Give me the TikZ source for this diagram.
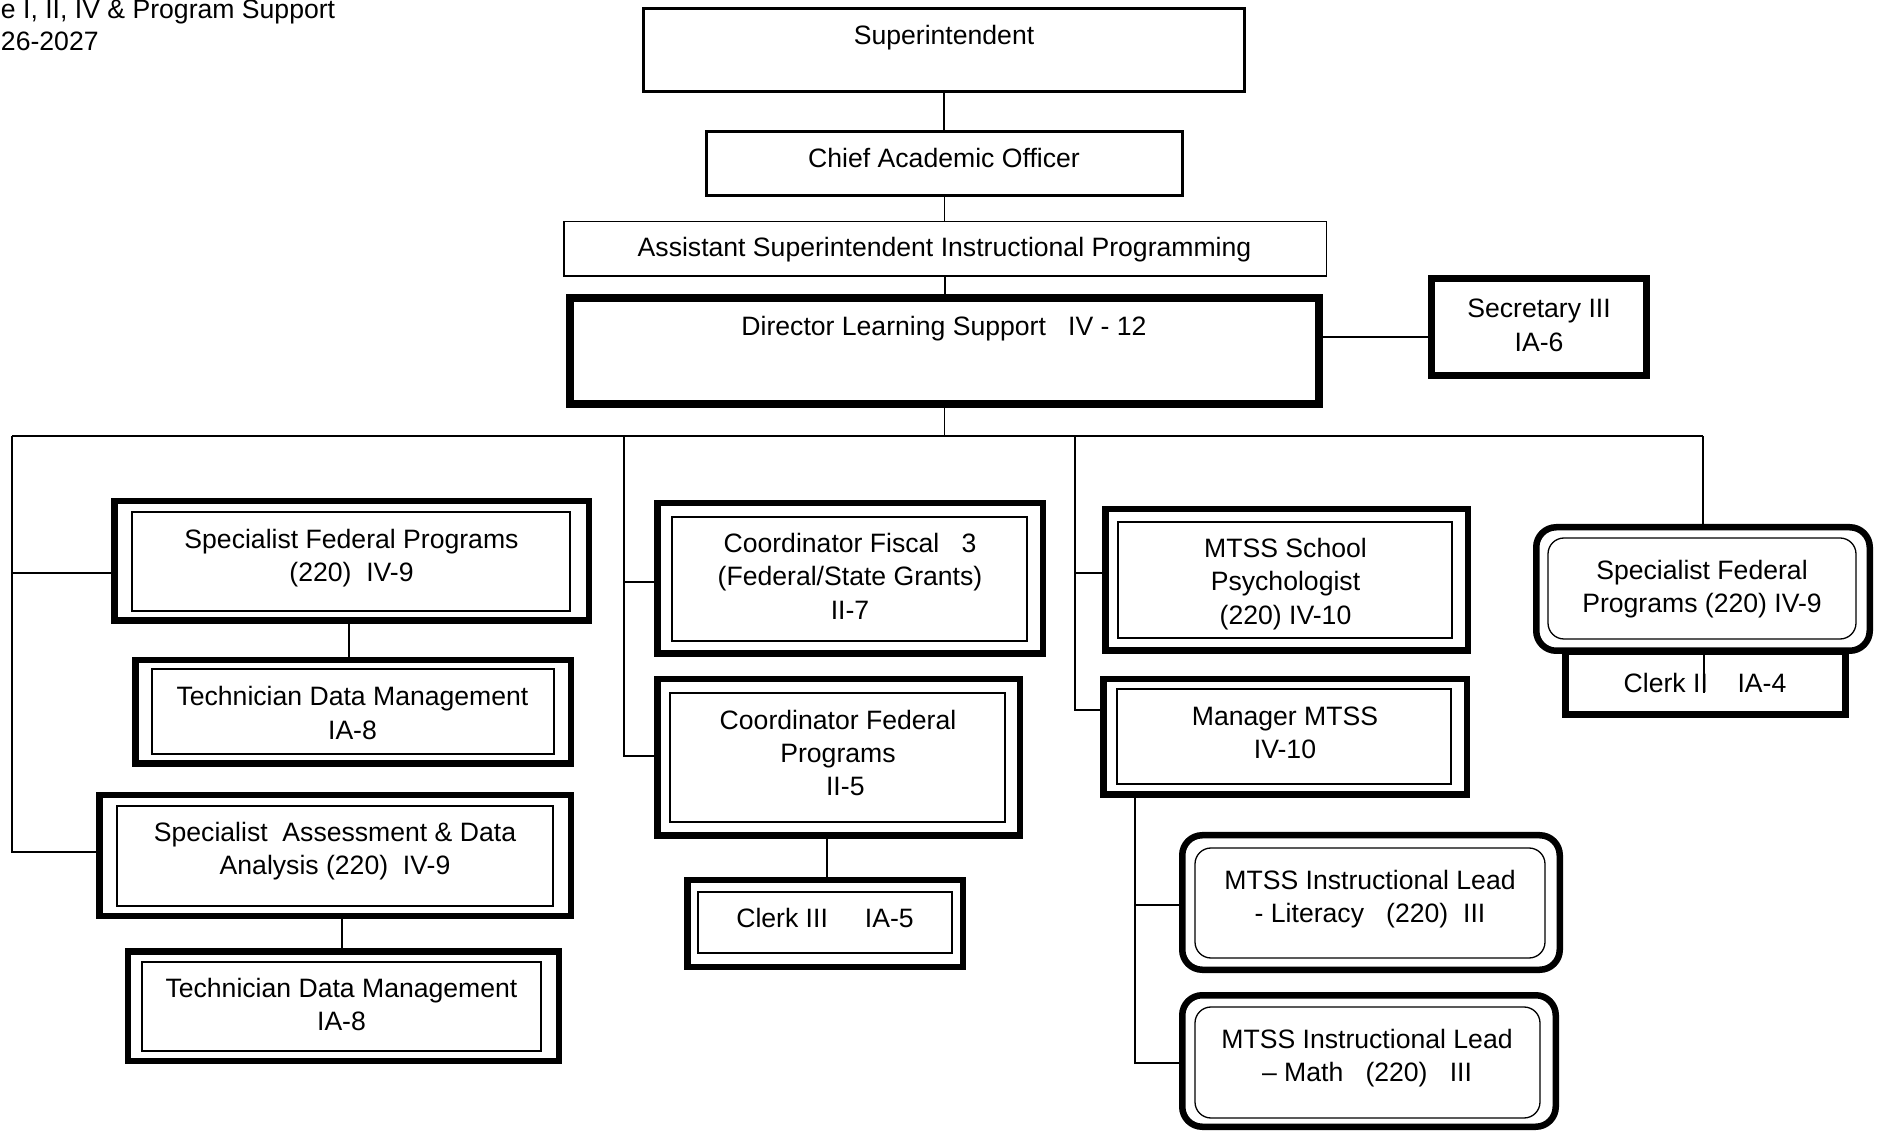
\documentclass[tikz,border=0pt]{standalone}
\usepackage{fontspec}
\setmainfont{Liberation Sans}
\usetikzlibrary{fit,calc}
\begin{document}
\begin{tikzpicture}[x=0.5pt,y=-0.5pt,
  every node/.style={inner sep=0pt, outer sep=0pt},
  lbl/.style={font=\fontsize{13.3}{16.65}\selectfont, align=center, anchor=base},
  conn/.style={line width=0.6pt},
  dbl/.style={draw, line width=3.25pt},
  rdbl/.style={draw, line width=3.25pt, rounded corners=10pt, fill=white},
  inl/.style={line width=0.65pt},
  rinl/.style={line width=0.65pt, rounded corners=8pt},
]
\useasboundingbox (0,0) rectangle (1881,1133);

% title (at the left edge)
\node[lbl, anchor=base west] (title1) at (1,19) {e I, II, IV \& Program Support};
\node[lbl, anchor=base west] (title2) at (1,51) {26-2027};

% top chain
\node[draw, line width=1.7pt, fit={(643.7,8.7) (1244.3,91.3)}] (sup) {};
\node[lbl] (sup-t) at (944,45) {Superintendent};
\node[draw, line width=1.35pt, fit={(706.35,131.35) (1182.65,195.65)}] (cao) {};
\node[lbl] (cao-t) at (944,168) {Chief Academic Officer};
\node[draw, line width=0.75pt, fit={(563.75,221.75) (1326.25,276.25)}] (asip) {};
\node[lbl] (asip-t) at (944.5,257) {Assistant Superintendent Instructional Programming};
\node[draw, line width=3.85pt, fit={(569.85,297.85) (1319.15,404.15)}] (dls) {};
\node[lbl] (dls-t) at (944,336) {Director Learning Support\ \ \ IV - 12};
\node[draw, line width=3.5pt, fit={(1431.5,278.5) (1646.5,375.5)}] (sec) {};
\node[lbl] (sec-t) at (1539,351.3) {Secretary III\\IA-6};

% column 1
\node[dbl, fit={(114.25,501.25) (588.75,620.75)}] (sfpl) {};
\draw[inl] (132,512) rectangle (570,611);
\node[lbl] (sfpl-t) at (351.5,581.8) {Specialist Federal Programs\\(220)\ \ IV-9};
\node[dbl, fit={(135.25,660.25) (570.75,763.75)}] (tdm1) {};
\draw[inl] (152,669) rectangle (554,754);
\node[lbl] (tdm1-t) at (352.5,739.3) {Technician Data Management\\IA-8};
\node[dbl, fit={(99.25,795.25) (570.75,915.75)}] (sada) {};
\draw[inl] (117,806) rectangle (553,906);
\node[lbl] (sada-t) at (335,874.8) {Specialist\ \ Assessment \& Data\\Analysis (220)\ \ IV-9};
\node[dbl, fit={(127.75,951.25) (558.75,1060.75)}] (tdm2) {};
\draw[inl] (142,962) rectangle (541,1051);
\node[lbl] (tdm2-t) at (341.5,1030.8) {Technician Data Management\\IA-8};

% column 2
\node[dbl, fit={(657.25,503.25) (1042.75,653.75)}] (cfs) {};
\draw[inl] (672,517) rectangle (1027,641);
\node[lbl] (cfs-t) at (850,619.3) {Coordinator Fiscal\ \ \ 3\\(Federal/State Grants)\\II-7};
\node[dbl, fit={(657.25,679.25) (1019.75,835.75)}] (cfp) {};
\draw[inl] (670,693) rectangle (1005,822);
\node[lbl] (cfp-t) at (838,796) {Coordinator Federal\\Programs\\\hspace*{0.55em}II-5};
\node[dbl, fit={(687.25,880.25) (962.75,966.75)}] (clk3) {};
\draw[inl] (698,892) rectangle (952,953);
\node[lbl] (clk3-t) at (825,927.5) {Clerk III\ \ \ \ \ IA-5};

% column 3
\node[dbl, fit={(1105.25,509.25) (1467.75,650.75)}] (msp) {};
\draw[inl] (1118,522) rectangle (1452,638);
\node[lbl] (msp-t) at (1285.5,624.3) {MTSS School\\Psychologist\\(220) IV-10};
\node[dbl, fit={(1103.25,679.25) (1466.75,794.75)}] (mmtss) {};
\draw[inl] (1117,689) rectangle (1451,784);
\node[lbl] (mmtss-t) at (1285,758.5) {Manager MTSS\\IV-10};
\node[rdbl, fit={(1182.25,835.25) (1559.75,969.75)}] (mill) {};
\draw[rinl] (1195,848) rectangle (1545,958);
\node[lbl] (mill-t) at (1370,922.5) {MTSS Instructional Lead\\- Literacy\ \ \ (220)\ \ III};
\node[rdbl, fit={(1182.25,995.25) (1555.75,1126.75)}] (milm) {};
\draw[rinl] (1195,1007) rectangle (1540,1118);
\node[lbl] (milm-t) at (1367,1081.3) {MTSS Instructional Lead\\-- Math\ \ \ (220)\ \ \ III};

% column 4
\node[draw, line width=3.5pt, fit={(1565.5,651.5) (1845.5,714.5)}] (clk2) {};
\node[lbl] (clk2-t) at (1705,693) {Clerk II\ \ \ \ IA-4};
\node[rdbl, fit={(1536.25,527.25) (1869.75,650.75)}] (sfpr) {};
\draw[rinl] (1548,538) rectangle (1856,639);
\node[lbl] (sfpr-t) at (1702,613) {Specialist Federal\\Programs (220) IV-9};

% connector coordinates
\coordinate (v1t) at (12,436);
\coordinate (v1b) at (12,852);
\coordinate (j1) at (12,573);
\coordinate (v2t) at (624,436);
\coordinate (v2b) at (624,756);
\coordinate (j2) at (624,582);
\coordinate (v3t) at (1075,436);
\coordinate (v3b) at (1075,710);
\coordinate (j3) at (1075,573);
\coordinate (v4t) at (1703,436);
\coordinate (k1) at (349,0);
\coordinate (k2) at (342,0);
\coordinate (k3) at (827,0);
\coordinate (v5b) at (1135,1063);
\coordinate (j5) at (1135,905);
\coordinate (k5e) at (1704,693);
\coordinate (h1) at (0,337);

% connectors
\draw[conn] (sup.south) -- (sup.south |- cao.north);
\draw[conn] (cao.south) -- (cao.south |- asip.north);
\draw[conn] (asip.south) -- (asip.south |- dls.north);
\draw[conn] (dls.south) -- (dls.south |- v1t);
\draw[conn] (dls.east |- h1) -- (sec.west |- h1);
\draw[conn] (v1t) -- (v4t);
\draw[conn] (v1t) -- (v1b) -- (sada.west |- v1b);
\draw[conn] (j1) -- (sfpl.west |- j1);
\draw[conn] (v2t) -- (v2b) -- (cfp.west |- v2b);
\draw[conn] (j2) -- (cfs.west |- j2);
\draw[conn] (v3t) -- (v3b) -- (mmtss.west |- v3b);
\draw[conn] (j3) -- (msp.west |- j3);
\draw[conn] (v4t) -- (v4t |- sfpr.north);
\draw[conn] (sfpl.south -| k1) -- (tdm1.north -| k1);
\draw[conn] (sada.south -| k2) -- (tdm2.north -| k2);
\draw[conn] (cfp.south -| k3) -- (clk3.north -| k3);
\draw[conn] (mmtss.south -| v5b) -- (v5b) -- (milm.west |- v5b);
\draw[conn] (j5) -- (mill.west |- j5);
\draw[conn] (sfpr.south -| k5e) -- (k5e);
\end{tikzpicture}
\end{document}
